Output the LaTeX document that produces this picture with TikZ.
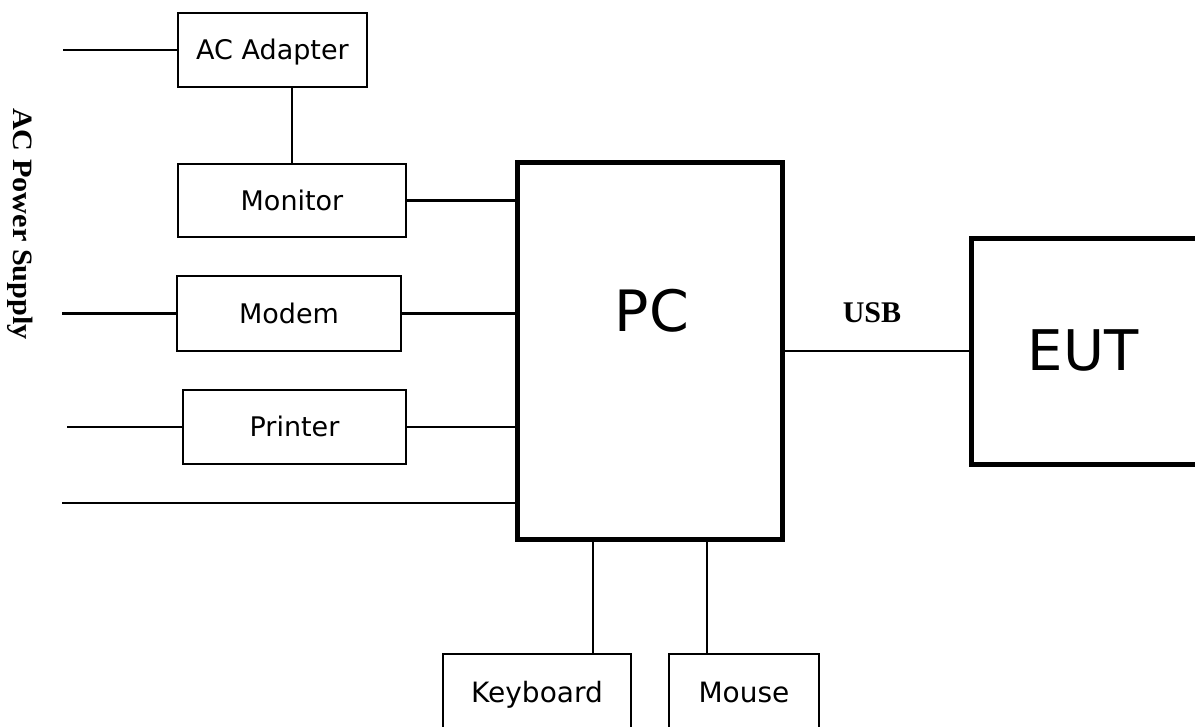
\documentclass[tikz,border=0pt]{standalone}
\usepackage{fontspec}
\setmainfont{Liberation Serif}
\setsansfont{DejaVu Sans}
\usetikzlibrary{positioning}

\tikzset{
  unitbox/.style={draw, line width=2.8pt, inner sep=0pt, text height=20pt, text depth=0pt,
    font=\sffamily\fontsize{27}{27}\selectfont},
  mainbox/.style={draw, line width=5pt, inner sep=0pt},
  wire/.style={line width=2.8pt},
}

\begin{document}
\begin{tikzpicture}[x=1pt,y=1pt,yscale=-1,xscale=1]
\clip (0,0) rectangle (1195,727);

%Shape: Main boxes
\node [mainbox, minimum width=265pt, minimum height=377pt] (pc) at (650,351) {};
\node [mainbox, minimum width=230pt, minimum height=226pt] (eut) at (1086.5,351.5) {};
\node [font=\sffamily\fontsize{57}{57}\selectfont] (pclabel) at (652,311) {PC};
\node [font=\sffamily\fontsize{56}{56}\selectfont] (eutlabel) at (1083,350) {EUT};

%Shape: Peripheral boxes
\node [unitbox, minimum width=189pt, minimum height=74pt] (adapter) at (272.5,50) {AC Adapter};
\node [unitbox, minimum width=228pt, minimum height=73pt] (monitor) at (292,200.5) {Monitor};
\node [unitbox, minimum width=224pt, minimum height=75pt] (modem) at (289,313.5) {Modem};
\node [unitbox, minimum width=223pt, minimum height=74pt] (printer) at (294.5,427) {Printer};
\node [unitbox, minimum width=188pt, minimum height=76pt, font=\sffamily\fontsize{28}{28}\selectfont] (kbd) at (537,692) {Keyboard};
\node [unitbox, minimum width=150pt, minimum height=76pt, font=\sffamily\fontsize{28}{28}\selectfont] (mouse) at (744,692) {Mouse};

%Free ends of the supply lines
\coordinate (acin) at (63,50);
\coordinate (mdin) at (62,313.5);
\coordinate (prin) at (67,427);
\coordinate (pcin) at (62,503);

%Straight Lines
\draw [wire] (acin) -- (adapter.west);
\draw [wire] (monitor.north) -- (monitor.north |- adapter.south);
\draw [wire] (monitor.east) -- (monitor.east -| pc.west);
\draw [wire] (mdin) -- (modem.west);
\draw [wire] (modem.east) -- (modem.east -| pc.west);
\draw [wire] (prin) -- (printer.west);
\draw [wire] (printer.east) -- (printer.east -| pc.west);
\draw [wire] (pcin) -- (pcin -| pc.west);
\draw [wire] (pc.east) -- (pc.east -| eut.west);
\draw [wire] ([xshift=56pt]kbd.north) -- ([xshift=56pt]kbd.north |- pc.south);
\draw [wire] ([xshift=-37pt]mouse.north) -- ([xshift=-37pt]mouse.north |- pc.south);

% Text Node
\node [font=\bfseries\fontsize{30}{30}\selectfont] (usb) at (872,312.5) {USB};
% Text Node
\node [rotate=-90, anchor=base, font=\bfseries\fontsize{28}{28}\selectfont] (supply) at (13,224) {\scalebox{1.08}[1]{AC Power Supply}};

\end{tikzpicture}
\end{document}
